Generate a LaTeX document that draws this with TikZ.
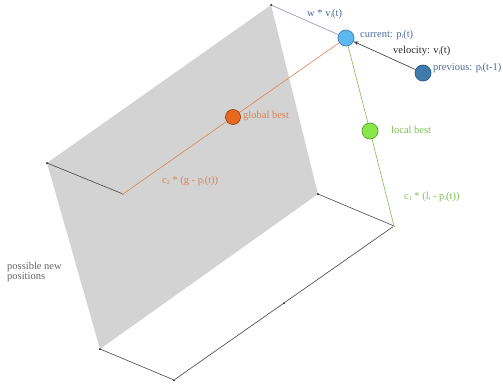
\documentclass[tikz,border=0pt]{standalone}
\usepackage{fontspec}
\setmainfont{Liberation Serif}
\usetikzlibrary{arrows.meta}
\definecolor{grayfill}{HTML}{D3D3D3}
\definecolor{curfill}{HTML}{5DB8F0}
\definecolor{curdraw}{HTML}{3C80B5}
\definecolor{prevfill}{HTML}{3E7AAA}
\definecolor{prevdraw}{HTML}{2A5A80}
\definecolor{gbfill}{HTML}{E8691E}
\definecolor{gbdraw}{HTML}{A04412}
\definecolor{lbfill}{HTML}{88E84A}
\definecolor{lbdraw}{HTML}{5A9E30}
\definecolor{orangeline}{HTML}{D98450}
\definecolor{greenline}{HTML}{7DBD52}
\definecolor{blueline}{HTML}{8E8EC4}
\definecolor{bluetext}{HTML}{4A6A9A}
\definecolor{edgecol}{HTML}{444444}
\tikzset{
  particle/.style={circle,minimum size=16pt,inner sep=0pt,line width=0.7pt},
  corner/.style={circle,fill=black,inner sep=0pt,minimum size=2pt},
  lbl/.style={inner sep=0pt,font=\fontsize{10.5}{10.5}\selectfont},
  edge/.style={draw=edgecol,line width=0.6pt},
}
\newcommand{\sbx}[1]{\raisebox{-0.25ex}{\fontsize{6}{6}\selectfont #1}}
\newcommand{\sbi}{\sbx{i}}
\begin{document}
\begin{tikzpicture}[x=1pt,y=-1pt]
\useasboundingbox (0,0) rectangle (503,386);
% gray plane
\fill[grayfill] (271,5) -- (47,163) -- (100,349) -- (318,194) -- cycle;
% corner points
\node[corner] (top) at (271,5) {};
\node[corner] (tl) at (47,163) {};
\node[corner,fill=orangeline] (gend) at (123,194) {};
\node[corner] (bl) at (100,349) {};
\node[corner] (bb) at (174,380) {};
\node[corner] (mid) at (284,303) {};
\node[corner] (rr) at (318,194) {};
\node[corner,fill=greenline] (lend) at (394,226) {};
% particles (placement)
\node[particle] (cur) at (346,38) {};
\node[particle] (prev) at (423,73) {};
\node[particle,minimum size=15pt] (gb) at (233,117) {};
\node[particle] (lb) at (370,131) {};
% connectors
\draw[edge] (tl) -- (gend);
\draw[edge] (rr) -- (lend);
\draw[edge] (bl) -- (bb);
\draw[edge] (bb) -- (mid) -- (lend);
\draw[orangeline,line width=0.6pt] (gend) -- (gb) -- (cur);
\draw[greenline,line width=0.6pt] (lend) -- (lb) -- (cur);
\draw[blueline,line width=0.6pt] (top) -- (cur);
\draw[edgecol,line width=0.7pt,-{Stealth[length=5pt,width=4pt]}] (prev) -- (cur);
% particles drawn on top
\node[particle,fill=curfill,draw=curdraw] at (cur) {};
\node[particle,fill=prevfill,draw=prevdraw] at (prev) {};
\node[particle,minimum size=15pt,fill=gbfill,draw=gbdraw] at (gb) {};
\node[particle,fill=lbfill,draw=lbdraw] at (lb) {};
% labels
\node[lbl,text=bluetext,anchor=west] (wlab) at (307,14) {w * v\sbi(t)};
\node[lbl,text=bluetext,anchor=west] (curlab) at (360,35) {current: p\sbi(t)};
\node[lbl,text=black!85,anchor=west] (vellab) at (393,51) {velocity: v\sbi(t)};
\node[lbl,text=bluetext,anchor=west] (prevlab) at (433,68) {previous: p\sbi(t-1)};
\node[lbl,text=orangeline,anchor=west] (gblab) at (243,116) {global best};
\node[lbl,text=greenline,anchor=west] (lblab) at (391,130) {local best};
\node[lbl,text=orangeline,anchor=west] (c2lab) at (162,181) {c\sbx{2} * (g - p\sbi(t))};
\node[lbl,text=greenline,anchor=west] (c1lab) at (404,197) {c\sbx{1} * (l\sbi{} - p\sbi(t))};
\node[lbl,text=black!60,anchor=west,align=left,font=\fontsize{10.5}{9.5}\selectfont] (pnp) at (7,272) {possible new\\positions};
\end{tikzpicture}
\end{document}
